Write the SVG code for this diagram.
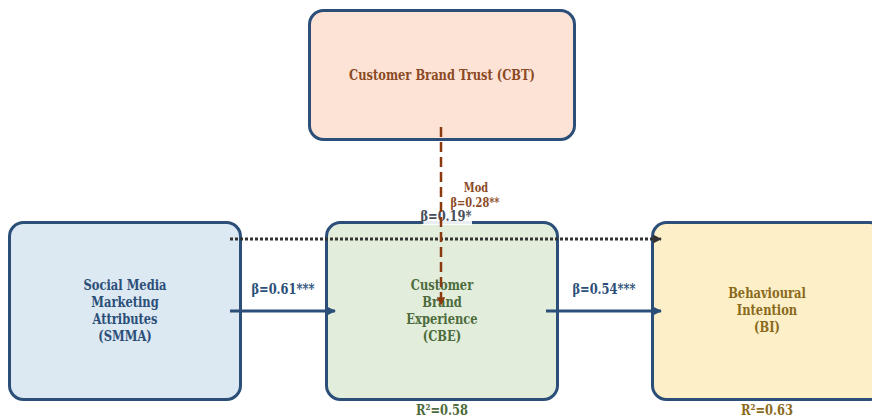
<svg xmlns="http://www.w3.org/2000/svg" width="872" height="419" viewBox="0 0 872 419">
  <defs>
    <style>
      .box { stroke: #2b4f78; stroke-width: 3; }
      .lbl { font-family: "DejaVu Serif", "Liberation Serif", serif; font-weight: bold; font-size: 14px; text-anchor: middle; }
      .sm { font-size: 12px; }
      .blue { fill: #2b4f78; }
      .green { fill: #4d6b3c; }
      .gold { fill: #8a6a1c; }
      .brown { fill: #8b4a24; }
      .dark { fill: #474d5a; }
    </style>
    <marker id="arrBlue" viewBox="0 0 10 10" refX="9" refY="5" markerWidth="3.2" markerHeight="3.2" orient="auto" markerUnits="strokeWidth">
      <path d="M0,0 L10,5 L0,10 z" fill="#2b4f78"/>
    </marker>
    <marker id="arrDark" viewBox="0 0 10 10" refX="9" refY="5" markerWidth="3" markerHeight="3" orient="auto" markerUnits="strokeWidth">
      <path d="M0,0 L10,5 L0,10 z" fill="#333"/>
    </marker>
    <marker id="arrBrown" viewBox="0 0 10 10" refX="9" refY="5" markerWidth="3.4" markerHeight="3.4" orient="auto" markerUnits="strokeWidth">
      <path d="M0,0 L10,5 L0,10 z" fill="#8b3a10"/>
    </marker>
  </defs>

  <rect width="872" height="419" fill="#ffffff"/>

  <!-- Nodes (labels use a narrowed serif via horizontal scale) -->
  <g id="node-cbt">
    <rect class="box" x="309.5" y="10.5" width="265" height="129" rx="14" fill="#fde3d6"/>
    <text class="lbl brown" transform="translate(442 80) scale(0.82 1)">Customer Brand Trust (CBT)</text>
  </g>

  <g id="node-smma">
    <rect class="box" x="9.5" y="222.5" width="231" height="177" rx="14" fill="#dce8f2"/>
    <text class="lbl blue" transform="translate(125 290) scale(0.82 1)">Social Media</text>
    <text class="lbl blue" transform="translate(125 307) scale(0.82 1)">Marketing</text>
    <text class="lbl blue" transform="translate(125 324) scale(0.82 1)">Attributes</text>
    <text class="lbl blue" transform="translate(125 341) scale(0.82 1)">(SMMA)</text>
  </g>

  <g id="node-cbe">
    <rect class="box" x="326.5" y="222.5" width="231" height="177" rx="14" fill="#e2eedb"/>
    <text class="lbl green" transform="translate(442 290) scale(0.82 1)">Customer</text>
    <text class="lbl green" transform="translate(442 307) scale(0.82 1)">Brand</text>
    <text class="lbl green" transform="translate(442 324) scale(0.82 1)">Experience</text>
    <text class="lbl green" transform="translate(442 341) scale(0.82 1)">(CBE)</text>
    <text class="lbl green" transform="translate(442 415) scale(0.82 1)">R²=0.58</text>
  </g>

  <g id="node-bi">
    <rect class="box" x="652.5" y="222.5" width="231" height="177" rx="14" fill="#fdf0c8"/>
    <text class="lbl gold" transform="translate(767 298) scale(0.82 1)">Behavioural</text>
    <text class="lbl gold" transform="translate(767 315) scale(0.82 1)">Intention</text>
    <text class="lbl gold" transform="translate(767 332) scale(0.82 1)">(BI)</text>
    <text class="lbl gold" transform="translate(767 415) scale(0.82 1)">R²=0.63</text>
  </g>

  <!-- Connectors -->
  <g id="connectors">
    <line x1="230" y1="311" x2="335" y2="311" stroke="#2b4f78" stroke-width="3" marker-end="url(#arrBlue)"/>
    <text class="lbl blue" transform="translate(283 294) scale(0.82 1)">β=0.61***</text>

    <line x1="546" y1="311" x2="661" y2="311" stroke="#2b4f78" stroke-width="3" marker-end="url(#arrBlue)"/>
    <text class="lbl blue" transform="translate(604 294) scale(0.82 1)">β=0.54***</text>

    <line x1="230" y1="239" x2="661" y2="239" stroke="#333" stroke-width="3" stroke-dasharray="3 2" marker-end="url(#arrDark)"/>
    <rect x="422" y="211" width="50" height="14" fill="#ffffff" fill-opacity="0.9"/>
    <text class="lbl dark" transform="translate(446 221) scale(0.82 1)">β=0.19*</text>

    <line x1="441" y1="127" x2="441" y2="305" stroke="#8b3a10" stroke-width="2.5" stroke-dasharray="10 5" marker-end="url(#arrBrown)"/>
    <text class="lbl sm brown" transform="translate(476 192) scale(0.82 1)">Mod</text>
    <text class="lbl sm brown" transform="translate(475 207) scale(0.82 1)">β=0.28**</text>
  </g>
</svg>
